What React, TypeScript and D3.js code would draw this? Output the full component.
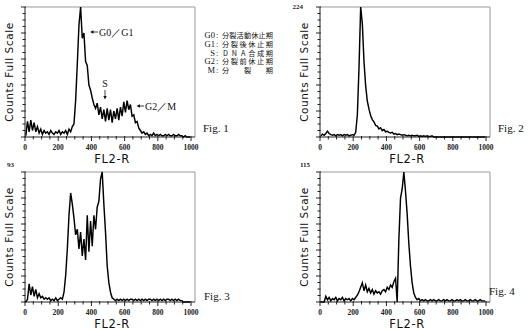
import React from "react";
import * as d3 from "d3";

// ---- data (counts per 10-channel bin, channels 0..990) ----
const binWidth = 10;
const xTickValues = [0, 200, 400, 600, 800, 1000];

const fig1Counts = [
  1, 12, 4, 13, 5, 11, 4, 8, 3, 6,
  2, 5, 3, 4, 2, 5, 3, 2, 4, 3,
  5, 2, 4, 3, 5, 2, 6, 4, 8, 10,
  28, 56, 86, 100, 76, 80, 58, 55, 40, 36,
  30, 25, 22, 26, 17, 23, 14, 21, 12, 22,
  13, 21, 11, 20, 14, 22, 13, 23, 16, 27,
  19, 28, 21, 25, 16, 17, 11, 12, 7, 5,
  3, 4, 2, 3, 1, 2, 1, 3, 1, 2,
  1, 2, 1, 1, 2, 1, 2, 1, 1, 2,
  1, 1, 2, 1, 1, 0, 1, 0, 0, 0,
];
const fig2Counts = [
  2, 5, 3, 6, 10, 6, 4, 3, 4, 2,
  4, 3, 4, 2, 4, 3, 4, 2, 3, 4,
  3, 8, 38, 120, 224, 195, 130, 88, 62, 48,
  37, 30, 26, 20, 19, 14, 16, 11, 13, 9,
  10, 8, 7, 8, 5, 6, 4, 5, 4, 3,
  4, 3, 2, 3, 2, 3, 2, 2, 3, 1,
  2, 1, 2, 1, 2, 1, 1, 2, 0, 0,
  0, 0, 0, 0, 0, 0, 0, 0, 0, 0,
  0, 0, 0, 0, 0, 0, 0, 0, 0, 0,
  0, 0, 0, 0, 0, 0, 0, 0, 0, 0,
];
const fig3Counts = [
  0, 2, 13, 5, 11, 4, 9, 3, 6, 3,
  4, 2, 3, 2, 3, 1, 2, 1, 3, 1,
  2, 3, 2, 7, 19, 38, 62, 78, 70, 60,
  48, 52, 38, 50, 33, 45, 30, 62, 36, 58,
  40, 62, 52, 68, 72, 88, 93, 70, 50, 26,
  14, 7, 3, 2, 1, 2, 1, 2, 1, 2,
  1, 2, 1, 2, 2, 1, 2, 1, 2, 1,
  2, 1, 2, 1, 2, 2, 1, 2, 1, 2,
  1, 2, 1, 2, 1, 2, 2, 1, 2, 1,
  2, 1, 2, 1, 1, 0, 0, 0, 0, 0,
];
const fig4Counts = [
  0, 0, 0, 5, 2, 4, 1, 3, 2, 4,
  1, 3, 2, 4, 1, 3, 2, 3, 1, 3,
  2, 4, 6, 9, 13, 17, 10, 15, 9, 12,
  8, 11, 7, 10, 8, 9, 7, 10, 11, 9,
  13, 11, 15, 13, 18, 21, 0, 55, 92, 100,
  115, 98, 78, 52, 32, 17, 8, 4, 2, 3,
  1, 2, 1, 2, 1, 1, 2, 1, 2, 1,
  1, 2, 1, 1, 2, 1, 2, 1, 1, 2,
  1, 1, 2, 1, 2, 1, 1, 2, 1, 1,
  2, 1, 1, 2, 1, 1, 2, 1, 1, 1,
];

const fullScales = [100, 224, 93, 115];
const fullScaleLabels = ["", "224", "93", "115"];
const figLabels = ["Fig. 1", "Fig. 2", "Fig. 3", "Fig. 4"];

const legendKeys = ["G0", "G1", "S", "G2", "M"];
const legendTexts = ["分裂活動休止期", "分裂後休止期", "DNA合成期", "分裂前休止期", "分裂期"];

// ---- layout ----
const W = 170;
const H = 130;
const panels = [
  { left: 25, top: 7, counts: fig1Counts, lblX: -11, lblY: -4, figX: 203, figY: 132 },
  { left: 320, top: 7, counts: fig2Counts, lblX: -17, lblY: 2, figX: 498, figY: 132 },
  { left: 25, top: 172, counts: fig3Counts, lblX: -11, lblY: -5, figX: 204, figY: 300 },
  { left: 320, top: 172, counts: fig4Counts, lblX: -10, lblY: -5, figX: 489, figY: 295 },
];

const serif = "'Liberation Serif', 'DejaVu Serif', serif";
const sans = "'DejaVu Sans', sans-serif";
const cjk = "'Noto Sans CJK JP', sans-serif";

function Panel({ idx }: { idx: number }) {
  const p = panels[idx];
  const x = d3.scaleLinear().domain([0, 1024]).range([0, W]);
  const y = d3.scaleLinear().domain([0, fullScales[idx]]).range([H, 0]);
  const line = d3
    .line<number>()
    .x((_, i) => x(i * binWidth + binWidth / 2))
    .y((d) => y(d));
  const minorX = d3.range(0, 1001, 50);
  const yDivs = d3.range(0, 21);
  return (
    <g transform={`translate(${p.left},${p.top})`}>
      <line x1={0} y1={0} x2={W} y2={0} stroke="#999" strokeWidth={1} />
      <line x1={W} y1={0} x2={W} y2={H} stroke="#999" strokeWidth={1} />
      <line x1={0} y1={0} x2={0} y2={H} stroke="#222" strokeWidth={1} />
      <line x1={0} y1={H} x2={W} y2={H} stroke="#222" strokeWidth={1} />
      {yDivs.map((k) => {
        const yy = (H * k) / 20;
        const major = k % 4 === 0;
        return (
          <line key={k} x1={major ? -4 : -2.5} x2={major ? 1 : 0.5} y1={yy} y2={yy} stroke="#222" strokeWidth={1} />
        );
      })}
      {minorX.map((v) => {
        const major = v % 200 === 0;
        return (
          <line key={v} x1={x(v)} x2={x(v)} y1={H - 1} y2={H + (major ? 4 : 2.5)} stroke="#222" strokeWidth={1} />
        );
      })}
      {xTickValues.map((v) => (
        <text key={v} x={x(v)} y={H + 13} textAnchor="middle" fontFamily={serif} fontWeight="bold" fontSize={7.5} fill="#222">
          {v}
        </text>
      ))}
      <path d={line(p.counts) || ""} fill="none" stroke="#000" strokeWidth={1.45} strokeLinejoin="miter" />
      <text x={W / 2 + 2} y={H + 26} textAnchor="middle" fontFamily={sans} fontSize={11.5} letterSpacing={0.6} fill="#111">
        FL2-R
      </text>
      <text
        transform={`translate(-15,${H / 2}) rotate(-90)`}
        textAnchor="middle"
        dominantBaseline="middle"
        fontFamily={sans}
        fontSize={10.5}
        letterSpacing={0.6}
        fill="#111"
      >
        Counts Full Scale
      </text>
      {fullScaleLabels[idx] && (
        <text x={p.lblX} y={p.lblY} textAnchor="end" fontFamily={serif} fontWeight="bold" fontSize={7} fill="#222">
          {fullScaleLabels[idx]}
        </text>
      )}
    </g>
  );
}

function LegendRow({ k, text, yy }: { k: string; text: string; yy: number }) {
  const chars = Array.from(text);
  const fs = 7.2;
  const startX = 222;
  const span = 51 - fs;
  const step = chars.length > 1 ? span / (chars.length - 1) : 0;
  return (
    <g>
      <text x={215} y={yy} textAnchor="end" fontFamily={serif} fontSize={8.5} fill="#111">
        {k}
      </text>
      <text x={216} y={yy} fontFamily={serif} fontSize={8.5} fill="#111">
        :
      </text>
      {chars.map((c, j) => (
        <text key={j} x={startX + j * step + fs / 2} y={yy} textAnchor="middle" fontFamily={cjk} fontSize={fs} fill="#111">
          {c}
        </text>
      ))}
    </g>
  );
}

export default function App() {
  const legendY = [38, 47, 55.5, 64, 72.5];
  return (
    <svg width={530} height={330} style={{ position: "absolute", left: 0, top: 0, background: "#fff" }}>
      <rect width={530} height={330} fill="#fff" />
      {panels.map((_, i) => (
        <Panel key={i} idx={i} />
      ))}
      {panels.map((p, i) => (
        <text key={i} x={p.figX} y={p.figY} fontFamily={serif} fontSize={11} fill="#111">
          {figLabels[i]}
        </text>
      ))}
      {legendKeys.map((k, i) => (
        <LegendRow key={k} k={k} text={legendTexts[i]} yy={legendY[i]} />
      ))}
      <g stroke="#111" fill="#111">
        <line x1={92} y1={32} x2={98} y2={32} strokeWidth={0.8} />
        <path d="M90,32 L93.5,30.3 L93.5,33.7 Z" stroke="none" />
        <line x1={138} y1={106} x2={144} y2={106} strokeWidth={0.8} />
        <path d="M136.5,106 L140,104.3 L140,107.7 Z" stroke="none" />
        <line x1={105} y1={90} x2={105} y2={97} strokeWidth={0.8} />
        <path d="M105,99.5 L103.3,96 L106.7,96 Z" stroke="none" />
      </g>
      <text x={99} y={35.5} fontFamily={serif} fontSize={10} fill="#111">G0／G1</text>
      <text x={105} y={87} textAnchor="middle" fontFamily={serif} fontSize={10} fill="#111">S</text>
      <text x={145} y={109.5} fontFamily={serif} fontSize={10} fill="#111">G2／M</text>
    </svg>
  );
}
